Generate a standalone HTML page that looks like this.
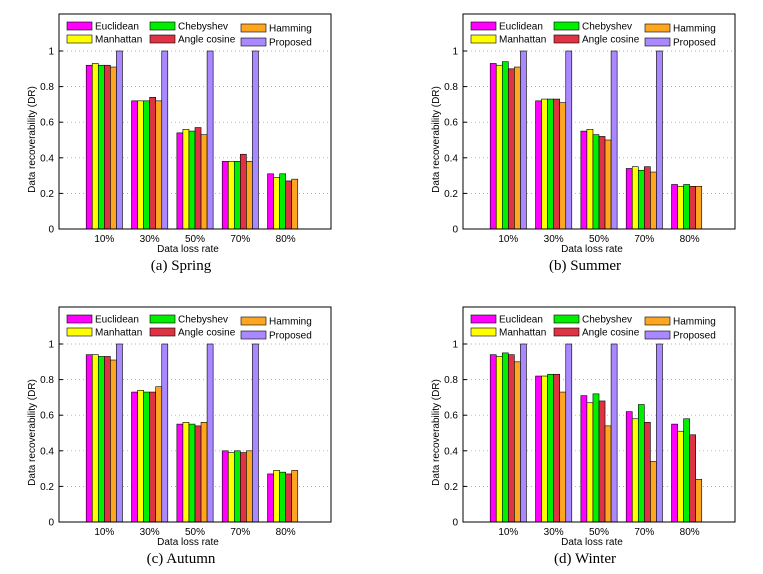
<!DOCTYPE html>
<html><head><meta charset="utf-8"><style>
body{margin:0;background:#fff;width:763px;height:574px;overflow:hidden}
svg{position:absolute;left:0;top:0}
text{font-family:"Liberation Sans",sans-serif}
text.serif{font-family:"Liberation Serif",serif}
</style></head><body>
<svg id="c" width="763" height="574"></svg>
<script>
const categories=["10%","30%","50%","70%","80%"];
const seriesNames=["Euclidean","Manhattan","Chebyshev","Angle cosine","Hamming","Proposed"];
const yTicks=[0,0.2,0.4,0.6,0.8,1];
const yTickLabels=["0","0.2","0.4","0.6","0.8","1"];
const panelTitles=["(a)  Spring","(b)  Summer","(c)  Autumn","(d)  Winter"];
const springValues=[[0.92,0.93,0.92,0.92,0.91,1],[0.72,0.72,0.72,0.74,0.72,1],[0.54,0.56,0.55,0.57,0.53,1],[0.38,0.38,0.38,0.42,0.38,1],[0.31,0.29,0.31,0.27,0.28,0]];
const summerValues=[[0.93,0.92,0.94,0.90,0.91,1],[0.72,0.73,0.73,0.73,0.71,1],[0.55,0.56,0.53,0.52,0.50,1],[0.34,0.35,0.33,0.35,0.32,1],[0.25,0.24,0.25,0.24,0.24,0]];
const autumnValues=[[0.94,0.94,0.93,0.93,0.91,1],[0.73,0.74,0.73,0.73,0.76,1],[0.55,0.56,0.55,0.54,0.56,1],[0.40,0.39,0.40,0.39,0.40,1],[0.27,0.29,0.28,0.27,0.29,0]];
const winterValues=[[0.94,0.93,0.95,0.94,0.90,1],[0.82,0.82,0.83,0.83,0.73,1],[0.71,0.67,0.72,0.68,0.54,1],[0.62,0.58,0.66,0.56,0.34,1],[0.55,0.51,0.58,0.49,0.24,0]];
const colors=["#ff00ff","#ffff00","#00ee00","#dd3344","#ffa620","#aa88ff"];
const NS="http://www.w3.org/2000/svg";
const svg=document.getElementById('c');
function mk(tag,attrs,parent){const e=document.createElementNS(NS,tag);for(const k in attrs)e.setAttribute(k,attrs[k]);(parent||svg).appendChild(e);return e;}
function panel(data,title,dx,dy,key){
  const g=mk('g',{transform:`translate(${dx},${dy})`});
  
  
  const L=59,R=331,T=14,B=229,Y1=51;
  const yS=v=>B-v*(B-Y1);
  const xS=v=>L+v*(R-L)/6;
  yTicks.forEach((t,i)=>{
    if(t>0){const gl=mk('line',{x1:L,x2:R,y1:yS(t),y2:yS(t),stroke:'#999','stroke-width':0.7,'stroke-dasharray':'1,3'},g);
    }
    const tx=mk('text',{x:L-5,y:yS(t)+3.5,'text-anchor':'end','font-size':10},g);tx.textContent=yTickLabels[i];
    
    mk('line',{x1:L,x2:L+4,y1:yS(t),y2:yS(t),stroke:'#000'},g);
  });
  const bw=(R-L)/6*0.8/6;
  data.forEach((grp,ci)=>{
    const cx=xS(ci+1);
    grp.forEach((v,si)=>{
      if(v<=0)return;
      const r=mk('rect',{x:cx-3*bw+si*bw,y:yS(v),width:bw,height:B-yS(v),fill:colors[si],stroke:'#000','stroke-width':0.6},g);
      
      
    });
    const tl=mk('text',{x:cx,y:B+13,'text-anchor':'middle','font-size':10},g);tl.textContent=categories[ci];
    
  });
  const fr=mk('rect',{x:L,y:T,width:R-L,height:B-T,fill:'none',stroke:'#000','stroke-width':1},g);
  
  const xl=mk('text',{x:(L+R)/2-7,y:B+23,'text-anchor':'middle','font-size':10},g);xl.textContent='Data loss rate';
  
  const yl=mk('text',{x:0,y:0,'text-anchor':'middle','font-size':10,transform:`translate(${L-24},${(T+B)/2+18}) rotate(-90)`},g);yl.textContent='Data recoverability (DR)';
  
  const tt=mk('text',{x:(L+R)/2-14,y:B+41,'text-anchor':'middle','font-size':15,'class':'serif'},g);tt.textContent=title;
  
  const pos=[[67,26],[67,39],[150,26],[150,39],[241,28],[241,42]];
  seriesNames.forEach((n,i)=>{
    const [lx,ly]=pos[i];
    const sw=mk('rect',{x:lx,y:ly-4,width:25,height:8,fill:colors[i],stroke:'#000','stroke-width':0.6},g);
    
    const lt=mk('text',{x:lx+28,y:ly+3.5,'font-size':10},g);lt.textContent=n;
    
  });
}
panel(springValues,panelTitles[0],0,0,'spring');
panel(summerValues,panelTitles[1],404,0,'summer');
panel(autumnValues,panelTitles[2],0,293,'autumn');
panel(winterValues,panelTitles[3],404,293,'winter');
</script>
</body></html>
